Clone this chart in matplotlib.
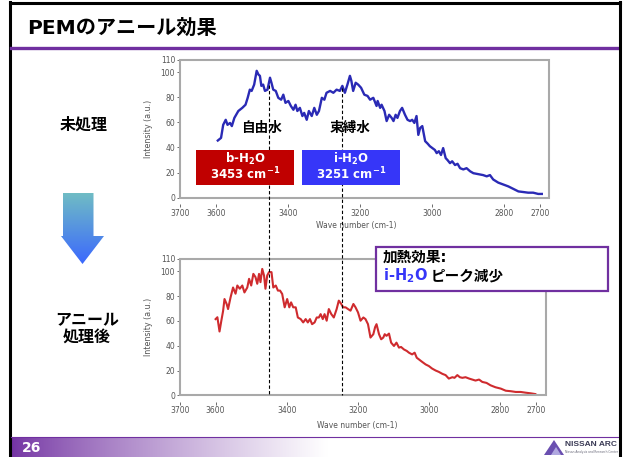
import numpy as np
import matplotlib
matplotlib.use("Agg")
import matplotlib.pyplot as plt
from matplotlib.patches import Rectangle, Polygon
from matplotlib import transforms
from matplotlib.colors import to_rgb

plt.rcParams['font.family'] = ['DejaVu Sans', 'Noto Sans CJK JP']

# IR spectrum before annealing (wave number, intensity)
raw_wn = [3595, 3586, 3580, 3573, 3568, 3561, 3556, 3549, 3538, 3527, 3518, 3512, 3506, 3501,
          3494, 3487, 3482, 3478, 3474, 3469, 3464, 3457, 3450, 3446, 3441, 3434, 3427, 3419,
          3413, 3407, 3399, 3392, 3385, 3379, 3374, 3367, 3360, 3355, 3348, 3342, 3334, 3327,
          3320, 3314, 3306, 3299, 3293, 3283, 3274, 3265, 3256, 3249, 3242, 3235, 3228, 3224,
          3219, 3212, 3205, 3197, 3188, 3179, 3172, 3163, 3154, 3151, 3144, 3140, 3132, 3126,
          3119, 3112, 3107, 3101, 3096, 3089, 3083, 3075, 3068, 3061, 3055, 3049, 3043, 3038,
          3033, 3027, 3019, 3012, 3006, 2999, 2992, 2987, 2981, 2975, 2969, 2962, 2957, 2950,
          2944, 2936, 2929, 2922, 2913, 2904, 2894, 2885, 2876, 2867, 2858, 2848, 2839, 2830,
          2816, 2802, 2788, 2774, 2760, 2746, 2733, 2719, 2705, 2695]
raw_int = [45.5, 47.6, 58, 62, 58, 59.5, 57, 63.5, 69, 71.5, 74, 79.5, 86, 85,
           90, 101, 98, 97, 89, 90, 85, 86, 95.5, 91.5, 86, 85, 79.5, 78,
           82, 75.5, 77, 73, 70, 74, 69, 71.5, 65, 67.5, 62, 69, 65, 71.5,
           66, 69, 79.5, 78, 83.5, 85, 83.5, 86, 85, 89, 83.5, 90, 97, 93,
           85, 91.5, 90, 87.5, 82, 81, 78, 79.5, 73, 77, 71.5, 74, 69, 61,
           66, 63.5, 61, 66, 63.5, 69, 71.5, 66, 62, 61, 62, 59.5, 65, 50,
           55.5, 57, 45, 43, 41, 39.5, 38, 35.5, 37, 34, 39.5, 31.5, 30, 27.5,
           29, 26, 27, 23.5, 22.5, 23.5, 21, 19.5, 19, 18.5, 18, 17, 18, 14.5,
           12, 10.5, 9, 7, 5, 4.5, 4, 4, 3, 3]

# IR spectrum after annealing
ann_wn = [3600, 3595, 3589, 3584, 3579, 3575, 3569, 3565, 3558, 3551, 3544, 3539, 3532, 3525,
          3519, 3511, 3506, 3500, 3494, 3488, 3483, 3478, 3474, 3469, 3464, 3460, 3455, 3450,
          3443, 3438, 3431, 3425, 3419, 3413, 3406, 3399, 3393, 3388, 3382, 3375, 3369, 3361,
          3354, 3347, 3341, 3335, 3329, 3322, 3316, 3310, 3305, 3299, 3294, 3288, 3282, 3275,
          3268, 3260, 3254, 3247, 3242, 3235, 3228, 3221, 3213, 3207, 3200, 3193, 3185, 3179,
          3172, 3165, 3157, 3152, 3148, 3141, 3135, 3129, 3125, 3120, 3113, 3107, 3099, 3092,
          3085, 3079, 3071, 3063, 3057, 3048, 3041, 3035, 3029, 3020, 3010, 3001, 2992, 2982,
          2973, 2963, 2954, 2945, 2935, 2929, 2921, 2914, 2907, 2898, 2888, 2879, 2870, 2860,
          2851, 2839, 2828, 2814, 2799, 2785, 2771, 2757, 2743, 2729, 2715, 2702]
ann_int = [61.5, 63, 51.5, 60, 68, 77.7, 73.7, 69.6, 79, 87, 82, 88.6, 86, 88.6,
           83, 87, 94, 88.6, 98, 95.4, 90, 98, 91.3, 102, 96.7, 86, 96.7, 99.4,
           99.4, 87, 88.6, 84.5, 84.5, 81.8, 71, 77.7, 71, 75, 71, 71, 62.8, 61.5,
           58.8, 61.5, 58.8, 61.5, 57.4, 58.8, 62.8, 62.8, 65.5, 61.5, 65.5, 60.2, 69.6, 65.5,
           62.8, 69.6, 76.4, 73.7, 71, 71, 69.6, 68.3, 73.7, 71, 66.9, 60.2, 62.8, 61.5,
           57.4, 46.6, 49.3, 55, 57.4, 49.3, 45.2, 46.6, 49.3, 48, 49.8, 42.5, 39.8, 42.5,
           38.5, 39, 37, 35.8, 34.4, 33, 34.4, 30.3, 29, 27, 24.9, 23.6, 21.6, 20,
           18.9, 17.3, 16.3, 13.5, 14.6, 14.1, 16.3, 14.6, 14.1, 14.6, 13.5, 12.7, 11.9, 12.7,
           10.8, 10, 8.1, 6.5, 5.4, 3.7, 3.3, 2.7, 2.7, 2.1, 1.6, 1]

x_ticks = [3700, 3600, 3400, 3200, 3000, 2800, 2700]
y_ticks = [0, 20, 40, 60, 80, 100, 110]
peak_b = 3453
peak_i = 3251

W, H = 625, 457
fig = plt.figure(figsize=(W / 100, H / 100), dpi=100)


def frac(x0, y0, x1, y1):
    # pixel box (top-left origin) -> figure fraction rect
    return [x0 / W, 1 - y1 / H, (x1 - x0) / W, (y1 - y0) / H]


bg = fig.add_axes([0, 0, 1, 1])
bg.set_xlim(0, W)
bg.set_ylim(H, 0)
bg.axis('off')

# slide frame, title and rule
bg.add_patch(Rectangle((0, 0), W, H, fc='white', ec='none', zorder=0))
bg.plot([10, 10], [2, H], color='black', lw=2.2, zorder=2)
bg.plot([619.5, 619.5], [2, H], color='black', lw=2.2, zorder=6)
bg.plot([10, 619.5], [2.5, 2.5], color='black', lw=2.2, zorder=2)
bg.plot([11, 619], [48, 48], color='#7030A0', lw=2.4, zorder=2)
bg.text(27, 28, 'PEMのアニール効果', fontsize=14.5, fontweight='bold',
        va='center', ha='left', color='black')

# footer band with fading gradient
c0 = np.array(to_rgb('#7232A2'))
xs = np.linspace(0, 1, 400)
t = np.clip(xs / 0.52, 0, 1) ** 0.8
grad = c0[None, :] * (1 - t[:, None]) + np.ones(3)[None, :] * t[:, None]
bg.imshow(grad[None, :, :], extent=(11, 619, H, 437), aspect='auto', zorder=1)
bg.plot([11, 619], [437, 437], color='#7030A0', lw=0.8, zorder=2)
bg.text(22, 447.5, '26', fontsize=10, fontweight='bold', color='white', va='center', ha='left', zorder=3)
bg.add_patch(Polygon([(544, 455), (554, 440), (564, 455)], closed=True, fc='#6A4FB0', ec='none', zorder=3))
bg.add_patch(Polygon([(551, 455), (556, 447), (561, 455)], closed=True, fc='#B0A8E0', ec='none', zorder=4))
bg.text(565, 445, 'NISSAN ARC', fontsize=6.0, fontweight='bold', color='#3A3A55',
        family='Liberation Sans', va='center', ha='left', zorder=3)
bg.text(565, 452.5, 'Nissan Analysis and Research Center', fontsize=2.1, color='#666677',
        va='center', ha='left', zorder=3)

# side labels and gradient arrow
bg.text(84, 125, '未処理', fontsize=11.5, fontweight='bold', ha='center', va='center')
bg.text(87, 329.5, 'アニール\n処理後', fontsize=11.5, fontweight='bold', ha='center', va='center',
        linespacing=1.15)
arrow = Polygon([(63, 193), (93.5, 193), (93.5, 236), (104, 236), (82.5, 264), (61, 236), (63, 236)],
                closed=True, fc='none', ec='none')
bg.add_patch(arrow)
ct, cb = np.array(to_rgb('#72C0C2')), np.array(to_rgb('#3A66FF'))
ys = np.linspace(0, 1, 200)
agrad = ct[None, :] * (1 - ys[:, None]) + cb[None, :] * ys[:, None]
im = bg.imshow(agrad[:, None, :], extent=(58, 108, 266, 190), aspect='auto', zorder=2)
im.set_clip_path(arrow)


def style(ax, xr):
    ax.set_xlim(3700, xr)
    ax.set_ylim(0, 110)
    ax.set_xticks(x_ticks)
    ax.set_yticks(y_ticks)
    for s in ax.spines.values():
        s.set_visible(False)
    ax.spines['bottom'].set_position(('outward', 4.5))
    ax.add_patch(Rectangle((0, 0), 1, 1, transform=ax.transAxes, fill=False,
                           ec='#A9A9A9', lw=1.5, clip_on=False, zorder=3))
    ax.tick_params(axis='both', labelsize=5.5, colors='#555555', length=2.3, width=0.6, pad=1.2)
    ax.set_ylabel('Intensity (a.u.)', fontsize=5.8, color='#555555')
    ax.set_xlabel('Wave number (cm-1)', fontsize=5.5, color='#555555')


ax1 = fig.add_axes(frac(180, 59.5, 549, 197.7))
ax1.plot(raw_wn, raw_int, color='#2A2AB5', lw=1.7)
style(ax1, 2675)
ax1.yaxis.set_label_coords(-27 / 369, 0.5)
ax1.xaxis.set_label_coords(176 / 369, -23 / 138)

ax2 = fig.add_axes(frac(180, 259, 546, 395.3))
ax2.plot(ann_wn, ann_int, color='#CF2B2E', lw=1.5)
style(ax2, 2672)
ax2.yaxis.set_label_coords(-27 / 366, 0.5)
ax2.xaxis.set_label_coords(177 / 366, -26 / 136)

# annotation layer
fg = fig.add_axes([0, 0, 1, 1], zorder=5)
fg.axis('off')
tr = transforms.blended_transform_factory(ax1.transData, fg.transData)
fg.plot([peak_b, peak_b], [85, 395], transform=tr, color='black', lw=0.8, ls=(0, (3, 2)), zorder=1)
fg.plot([peak_i, peak_i], [88, 395], transform=tr, color='black', lw=0.8, ls=(0, (3, 2)), zorder=1)
fg.set_xlim(0, W)
fg.set_ylim(H, 0)

fg.text(261, 127.5, '自由水', fontsize=9.8, fontweight='bold', ha='center', va='center', zorder=3)
fg.text(350, 127.5, '束縛水', fontsize=9.8, fontweight='bold', ha='center', va='center', zorder=3)

fg.add_patch(Rectangle((196, 149.7), 98, 35, fc='#C00000', ec='none', zorder=4))
fg.add_patch(Rectangle((301.7, 149.7), 98.3, 35, fc='#3636F8', ec='none', zorder=4))
for cx, name, wn in [(245, 'b', peak_b), (351, 'i', peak_i)]:
    fg.text(cx, 158.5, name + r'-H$_\mathbf{2}$O', fontsize=8.5, fontweight='bold', color='white',
            ha='center', va='center', zorder=5)
    fg.text(cx, 174, str(wn) + r' cm$^{\mathbf{-1}}$', fontsize=8.5, fontweight='bold', color='white',
            ha='center', va='center', zorder=5)

fg.add_patch(Rectangle((376, 246.7), 232, 44, fc='white', ec='#7030A0', lw=1.6, zorder=4))
fg.text(383, 257, '加熱効果:', fontsize=10.5, fontweight='bold', ha='left', va='center', zorder=5)
fg.text(383, 276, r'i-H$_\mathbf{2}$O', fontsize=10.5, fontweight='bold', color='#3636F8',
        ha='left', va='center', zorder=5)
fg.text(431, 276, 'ピーク減少', fontsize=10.5, fontweight='bold', ha='left', va='center', zorder=5)

fig.savefig('out.png', dpi=100)
